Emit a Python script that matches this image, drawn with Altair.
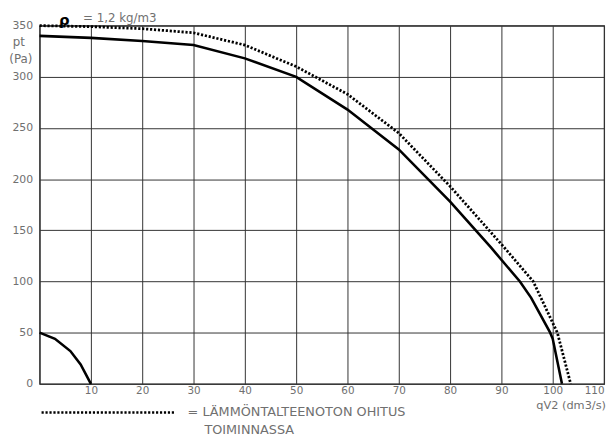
import altair as alt
import pandas as pd

# Main fan curve (solid)
solid_x = [0, 10, 20, 30, 40, 50, 60, 70, 80, 88, 93.6, 95.8, 99.5, 100, 101.8]
solid_y = [340, 338, 335, 331, 318, 300, 268, 229, 178, 133, 100, 84, 50, 44, 0]
# Bypass in operation (dotted)
dotted_x = [0, 10, 20, 30, 40, 50, 60, 70, 80, 90.6, 96.2, 100.9, 103.5]
dotted_y = [350, 349, 347, 343, 331, 310, 283, 245, 193, 133, 100, 50, 0]
# Small curve near origin
small_x = [0, 3, 6, 8, 10]
small_y = [50, 44, 32, 19, 0]

x_ticks = [0, 10, 20, 30, 40, 50, 60, 70, 80, 90, 100, 110]
y_ticks = [0, 50, 100, 150, 200, 250, 300, 350]

df = pd.concat([
    pd.DataFrame({"q": solid_x, "p": solid_y, "s": "solid"}),
    pd.DataFrame({"q": dotted_x, "p": dotted_y, "s": "dotted"}),
    pd.DataFrame({"q": small_x, "p": small_y, "s": "small"}),
], ignore_index=True)

W, H = 572, 363
FONT = "DejaVu Sans"
GRAY = "#707070"

xs = alt.Scale(domain=[0, 110], nice=False, zero=False)
ys = alt.Scale(domain=[0, 350], nice=False)

x_axis = alt.Axis(values=x_ticks, title=None, grid=True, ticks=False, domain=False,
                  labelExpr="datum.value == 0 ? '' : datum.label",
                  labelColor=GRAY, labelFont=FONT, labelFontSize=10.5, labelPadding=2)
y_axis = alt.Axis(values=y_ticks, title=None, grid=True, ticks=False, domain=False,
                  labelColor=GRAY, labelFont=FONT, labelFontSize=11, labelPadding=7)

base = alt.Chart(df).encode(
    x=alt.X("q:Q", scale=xs, axis=x_axis),
    y=alt.Y("p:Q", scale=ys, axis=y_axis),
    detail="s:N",
)

solid = base.transform_filter("datum.s != 'dotted'").mark_line(
    color="black", strokeWidth=2.6)
dotted = base.transform_filter("datum.s == 'dotted'").mark_line(
    color="black", strokeWidth=2.8, strokeDash=[2.2, 1.8])

def txt(text, x, y, size=11, color=GRAY, align="left", weight="normal", font=FONT):
    return alt.Chart(pd.DataFrame({"t": [text]})).mark_text(
        align=align, baseline="middle", font=font, fontSize=size, color=color,
        fontWeight=weight
    ).encode(text="t:N", x=alt.value(x - 40), y=alt.value(y - 23))

rho = txt("ρ", 65, 17, size=15, color="black", align="center", weight="bold")
rho_val = txt("= 1,2 kg/m3", 84, 15, size=12)
pt = txt("pt", 19, 40, size=12, align="center")
pa = txt("(Pa)", 21, 57, size=12, align="center")
qlab = txt("qV2 (dm3/s)", 614, 409, size=11.5, align="right")
leg1 = txt("= LÄMMÖNTALTEENOTON OHITUS", 190, 415, size=13)
leg2 = txt("TOIMINNASSA", 207, 433, size=13)

leg_line = alt.Chart(pd.DataFrame({"a": [0]})).mark_rule(
    color="black", strokeWidth=2.6, strokeDash=[2.2, 1.8]
).encode(x=alt.value(42 - 40), x2=alt.value(177 - 40), y=alt.value(415 - 23))

chart = alt.layer(solid, dotted, rho, rho_val, pt, pa, qlab, leg1, leg2, leg_line).properties(
    width=W, height=H,
    autosize=alt.AutoSizeParams(type="none"),
    padding={"left": 32, "top": 15, "right": 3, "bottom": 50},
).configure_view(
    stroke="#222", strokeWidth=1.2
).configure_axis(
    gridColor="#333", gridWidth=1, gridOpacity=1
)

chart.save("out.html", embed_options={"renderer": "svg", "actions": False})
